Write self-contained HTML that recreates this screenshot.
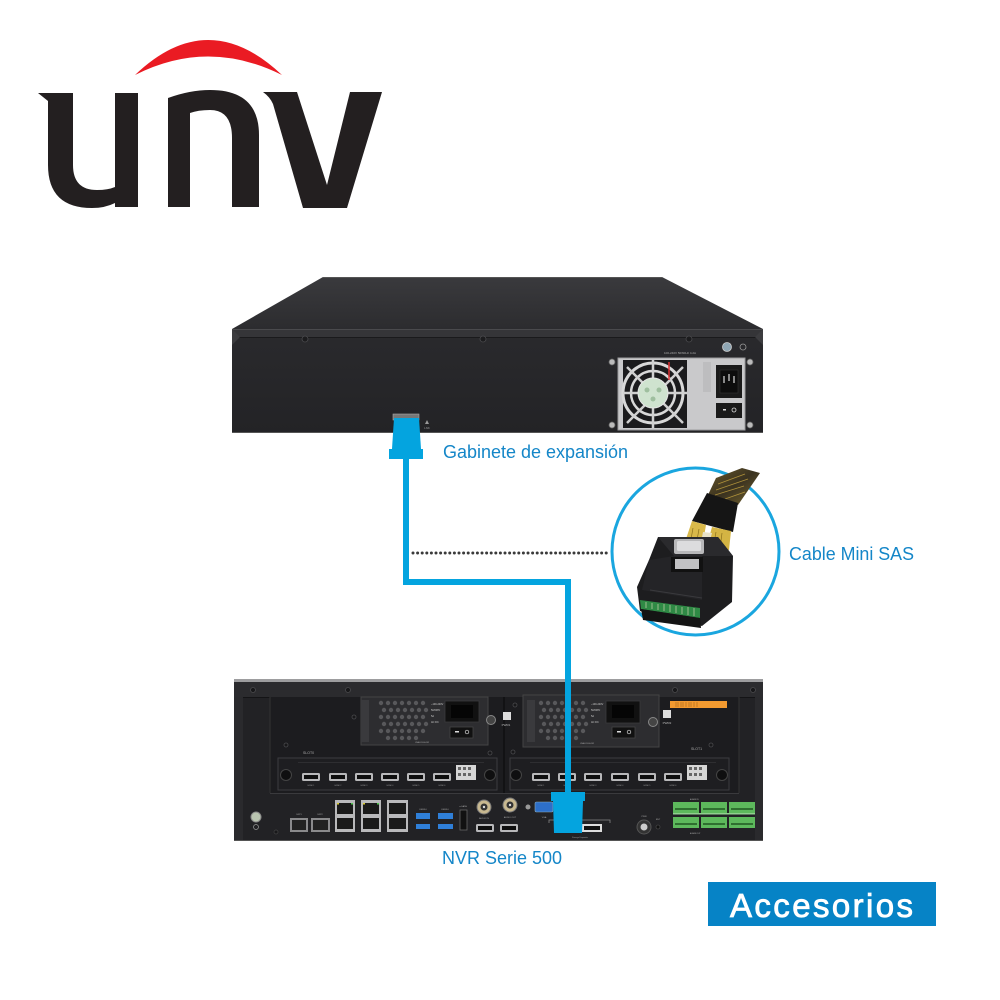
<!DOCTYPE html>
<html>
<head>
<meta charset="utf-8">
<style>
  html,body{margin:0;padding:0;background:#fff;}
  body{width:1000px;height:1000px;overflow:hidden;}
  svg{display:block;}
  text{font-family:"Liberation Sans",Arial,sans-serif;}
</style>
</head>
<body>
<svg width="1000" height="1000" viewBox="0 0 1000 1000" xmlns="http://www.w3.org/2000/svg">
  <defs>
    <linearGradient id="topface" x1="0" y1="0" x2="0" y2="1">
      <stop offset="0" stop-color="#3a3a3d"/>
      <stop offset="1" stop-color="#2c2c2f"/>
    </linearGradient>
    <linearGradient id="front" x1="0" y1="0" x2="0" y2="1">
      <stop offset="0" stop-color="#2a2a2d"/>
      <stop offset="1" stop-color="#232326"/>
    </linearGradient>
    <linearGradient id="braid" x1="0" y1="0" x2="1" y2="1">
      <stop offset="0" stop-color="#6b5a2a"/>
      <stop offset="0.5" stop-color="#3a3220"/>
      <stop offset="1" stop-color="#7a6830"/>
    </linearGradient>
  </defs>

  <!-- ============ LOGO ============ -->
  <path d="M135,75 Q208,5 282,75 Q208,38 135,75 Z" fill="#ea1b23"/>
  <path d="M38,93 L73,93 L73,165 Q73,190 97,190 Q108,190 115,187 L115,93 L138,93 L138,207 L115,207 L115,203 Q105,208 92,208 Q48,208 48,165 L48,101 Z" fill="#231f20"/>
  <path d="M168,98 Q190,90 210,90 Q259,90 259,135 L259,207 L232,207 L232,138 Q232,110 210,110 Q198,110 190,113 L190,207 L168,207 Z" fill="#231f20"/>
  <path d="M263,92 L297,92 L327,185 L350,92 L382,92 L347,208 L303,208 L273,104 Q270,97 263,92 Z" fill="#231f20"/>

  <!-- ============ TOP DEVICE (Gabinete) ============ -->
  <polygon points="323,277 662,277 763,329 232,329" fill="url(#topface)"/>
  <line x1="323" y1="277.5" x2="662" y2="277.5" stroke="#555" stroke-width="1"/>
  <rect x="232" y="329" width="531" height="104" fill="url(#front)"/>
  <rect x="232" y="329" width="531" height="8" fill="#353538"/>
  <line x1="232" y1="329.5" x2="763" y2="329.5" stroke="#4a4a4d" stroke-width="1"/>
  <line x1="238" y1="337.5" x2="757" y2="337.5" stroke="#1a1a1c" stroke-width="1"/>
  <polygon points="232,329 240,337 232,345" fill="#3c3c3f"/>
  <polygon points="763,329 755,337 763,345" fill="#3c3c3f"/>
  <line x1="232" y1="432.5" x2="763" y2="432.5" stroke="#555" stroke-width="1"/>
  <g fill="#1c1c1e" stroke="#4a4a4d" stroke-width="0.8">
    <circle cx="305" cy="339" r="3"/>
    <circle cx="483" cy="339" r="3"/>
    <circle cx="689" cy="339" r="3"/>
  </g>
  <circle cx="727" cy="347" r="4.5" fill="#8fa6b4" stroke="#ccc" stroke-width="0.8"/>
  <circle cx="743" cy="347" r="3" fill="none" stroke="#999" stroke-width="0.8"/>
  <text x="680" y="354" font-size="3" fill="#aaa" text-anchor="middle">100-240V 50/60Hz 4.2A</text>
  <rect x="618" y="358" width="127" height="72" fill="#c9c9cb"/>
  <rect x="618" y="358" width="127" height="72" fill="none" stroke="#9a9a9c" stroke-width="1"/>
  <rect x="623" y="360" width="64" height="68" fill="#1b1b1d"/>
  <circle cx="653" cy="393" r="30" fill="none" stroke="#d8d8d8" stroke-width="3"/>
  <circle cx="653" cy="393" r="22" fill="none" stroke="#d8d8d8" stroke-width="2.5"/>
  <line x1="627" y1="367" x2="683" y2="423" stroke="#d0d0d0" stroke-width="2.5"/>
  <line x1="683" y1="367" x2="627" y2="423" stroke="#d0d0d0" stroke-width="2.5"/>
  <line x1="653" y1="360" x2="653" y2="428" stroke="#d0d0d0" stroke-width="2.5"/>
  <line x1="623" y1="393" x2="687" y2="393" stroke="#d0d0d0" stroke-width="2.5"/>
  <circle cx="653" cy="393" r="15" fill="#cfe3cf" stroke="#e6e6e6" stroke-width="1"/>
  <circle cx="647" cy="390" r="2.5" fill="#9fbf9f"/>
  <circle cx="659" cy="390" r="2.5" fill="#9fbf9f"/>
  <circle cx="653" cy="399" r="2.5" fill="#9fbf9f"/>
  <line x1="669" y1="362" x2="669" y2="380" stroke="#d33" stroke-width="1.5"/>
  <rect x="703" y="362" width="8" height="30" fill="#bdbdbf"/>
  <rect x="716" y="365" width="26" height="33" fill="#1a1a1a"/>
  <rect x="720" y="370" width="18" height="23" fill="#0d0d0d" stroke="#333" stroke-width="0.6"/>
  <rect x="723" y="376" width="2" height="7" fill="#888"/>
  <rect x="728" y="374" width="2" height="7" fill="#888"/>
  <rect x="733" y="376" width="2" height="7" fill="#888"/>
  <rect x="716" y="403" width="26" height="15" fill="#1a1a1a"/>
  <rect x="723" y="409" width="3" height="1.5" fill="#ddd"/>
  <circle cx="734" cy="410" r="2" fill="none" stroke="#ddd" stroke-width="0.8"/>
  <g fill="#bbb" stroke="#666" stroke-width="0.8">
    <circle cx="612" cy="362" r="3"/>
    <circle cx="750" cy="362" r="3"/>
    <circle cx="612" cy="425" r="3"/>
    <circle cx="750" cy="425" r="3"/>
  </g>
  <rect x="393" y="414" width="26" height="6" fill="#777" stroke="#aaa" stroke-width="0.6"/>
  <polygon points="427,420 429,424 425,424" fill="#999"/>
  <text x="427" y="429" font-size="3" fill="#999" text-anchor="middle">LNK</text>

  <!-- ============ BOTTOM DEVICE (NVR) ============ -->
  <rect x="234" y="679" width="529" height="3" fill="#9d9d9f"/>
  <rect x="234" y="682" width="529" height="159" fill="#222225"/>
  <rect x="234" y="682" width="529" height="15" fill="#2b2b2e"/>
  <line x1="234" y1="697.5" x2="763" y2="697.5" stroke="#141416" stroke-width="1"/>
  <rect x="234" y="697" width="9" height="144" fill="#2a2a2d"/>
  <rect x="755" y="697" width="8" height="144" fill="#2a2a2d"/>
  <rect x="270" y="697" width="469" height="96" fill="#1c1c1f"/>
  <line x1="270" y1="697" x2="270" y2="793" stroke="#333" stroke-width="1"/>
  <line x1="739" y1="697" x2="739" y2="793" stroke="#333" stroke-width="1"/>
  <line x1="270" y1="793.5" x2="739" y2="793.5" stroke="#3a3a3d" stroke-width="1"/>
  <line x1="504" y1="697" x2="504" y2="793" stroke="#121214" stroke-width="2"/>
  <g fill="#18181a" stroke="#4a4a4d" stroke-width="0.8">
    <circle cx="253" cy="690" r="2.5"/>
    <circle cx="348" cy="690" r="2.5"/>
    <circle cx="675" cy="690" r="2.5"/>
    <circle cx="753" cy="690" r="2.5"/>
    <circle cx="286" cy="745" r="2"/>
    <circle cx="354" cy="717" r="2"/>
    <circle cx="490" cy="753" r="2"/>
    <circle cx="513" cy="752" r="2"/>
    <circle cx="515" cy="705" r="2"/>
    <circle cx="711" cy="745" r="2"/>
  </g>

  <!-- PSU1 -->
  <rect x="361" y="697" width="127" height="48" fill="#2d2d30" stroke="#444" stroke-width="1"/>
  <rect x="361" y="700" width="8" height="42" fill="#3a3a3d"/>
  <g fill="#58585b">
    <circle cx="381" cy="703" r="2.2"/><circle cx="388" cy="703" r="2.2"/><circle cx="395" cy="703" r="2.2"/><circle cx="402" cy="703" r="2.2"/><circle cx="409" cy="703" r="2.2"/><circle cx="416" cy="703" r="2.2"/><circle cx="423" cy="703" r="2.2"/>
    <circle cx="384" cy="710" r="2.2"/><circle cx="391" cy="710" r="2.2"/><circle cx="398" cy="710" r="2.2"/><circle cx="405" cy="710" r="2.2"/><circle cx="412" cy="710" r="2.2"/><circle cx="419" cy="710" r="2.2"/><circle cx="426" cy="710" r="2.2"/>
    <circle cx="381" cy="717" r="2.2"/><circle cx="388" cy="717" r="2.2"/><circle cx="395" cy="717" r="2.2"/><circle cx="402" cy="717" r="2.2"/><circle cx="409" cy="717" r="2.2"/><circle cx="416" cy="717" r="2.2"/><circle cx="423" cy="717" r="2.2"/>
    <circle cx="384" cy="724" r="2.2"/><circle cx="391" cy="724" r="2.2"/><circle cx="398" cy="724" r="2.2"/><circle cx="405" cy="724" r="2.2"/><circle cx="412" cy="724" r="2.2"/><circle cx="419" cy="724" r="2.2"/><circle cx="426" cy="724" r="2.2"/>
    <circle cx="381" cy="731" r="2.2"/><circle cx="388" cy="731" r="2.2"/><circle cx="395" cy="731" r="2.2"/><circle cx="402" cy="731" r="2.2"/><circle cx="409" cy="731" r="2.2"/><circle cx="416" cy="731" r="2.2"/><circle cx="423" cy="731" r="2.2"/>
    <circle cx="388" cy="738" r="2.2"/><circle cx="395" cy="738" r="2.2"/><circle cx="402" cy="738" r="2.2"/><circle cx="409" cy="738" r="2.2"/><circle cx="416" cy="738" r="2.2"/>
  </g>
  <text x="431" y="705" font-size="2.5" fill="#ccc">~100-240V</text>
  <text x="431" y="711" font-size="2.5" fill="#ccc">50/60Hz</text>
  <text x="431" y="717" font-size="2.5" fill="#ccc">5A</text>
  <text x="431" y="723" font-size="2.5" fill="#ccc">AC  DC</text>
  <rect x="445" y="701" width="34" height="21" fill="#111" stroke="#3a3a3d" stroke-width="0.8"/>
  <rect x="451" y="705" width="22" height="13" fill="#050505"/>
  <rect x="450" y="727" width="23" height="11" fill="#111" stroke="#444" stroke-width="0.8"/>
  <rect x="455" y="731" width="4" height="1.5" fill="#ddd"/>
  <circle cx="467" cy="732" r="1.8" fill="none" stroke="#ddd" stroke-width="0.7"/>
  <text x="415" y="743" font-size="2" fill="#aaa">UVA-D1000-DR</text>
  <circle cx="491" cy="720" r="4.5" fill="#444" stroke="#888" stroke-width="1"/>
  <rect x="503" y="712" width="8" height="8" fill="#ddd"/>
  <text x="506" y="726" font-size="3" fill="#bbb" text-anchor="middle">PWR1</text>

  <!-- PSU2 -->
  <rect x="523" y="695" width="136" height="52" fill="#2d2d30" stroke="#444" stroke-width="1"/>
  <rect x="527" y="700" width="8" height="42" fill="#3a3a3d"/>
  <g fill="#58585b">
    <circle cx="541" cy="703" r="2.2"/><circle cx="548" cy="703" r="2.2"/><circle cx="555" cy="703" r="2.2"/><circle cx="562" cy="703" r="2.2"/><circle cx="569" cy="703" r="2.2"/><circle cx="576" cy="703" r="2.2"/><circle cx="583" cy="703" r="2.2"/>
    <circle cx="544" cy="710" r="2.2"/><circle cx="551" cy="710" r="2.2"/><circle cx="558" cy="710" r="2.2"/><circle cx="565" cy="710" r="2.2"/><circle cx="572" cy="710" r="2.2"/><circle cx="579" cy="710" r="2.2"/><circle cx="586" cy="710" r="2.2"/>
    <circle cx="541" cy="717" r="2.2"/><circle cx="548" cy="717" r="2.2"/><circle cx="555" cy="717" r="2.2"/><circle cx="562" cy="717" r="2.2"/><circle cx="569" cy="717" r="2.2"/><circle cx="576" cy="717" r="2.2"/><circle cx="583" cy="717" r="2.2"/>
    <circle cx="544" cy="724" r="2.2"/><circle cx="551" cy="724" r="2.2"/><circle cx="558" cy="724" r="2.2"/><circle cx="565" cy="724" r="2.2"/><circle cx="572" cy="724" r="2.2"/><circle cx="579" cy="724" r="2.2"/><circle cx="586" cy="724" r="2.2"/>
    <circle cx="541" cy="731" r="2.2"/><circle cx="548" cy="731" r="2.2"/><circle cx="555" cy="731" r="2.2"/><circle cx="562" cy="731" r="2.2"/><circle cx="569" cy="731" r="2.2"/><circle cx="576" cy="731" r="2.2"/><circle cx="583" cy="731" r="2.2"/>
    <circle cx="548" cy="738" r="2.2"/><circle cx="555" cy="738" r="2.2"/><circle cx="562" cy="738" r="2.2"/><circle cx="569" cy="738" r="2.2"/><circle cx="576" cy="738" r="2.2"/>
  </g>
  <text x="591" y="705" font-size="2.5" fill="#ccc">~100-240V</text>
  <text x="591" y="711" font-size="2.5" fill="#ccc">50/60Hz</text>
  <text x="591" y="717" font-size="2.5" fill="#ccc">5A</text>
  <text x="591" y="723" font-size="2.5" fill="#ccc">AC  DC</text>
  <rect x="606" y="701" width="34" height="22" fill="#111" stroke="#3a3a3d" stroke-width="0.8"/>
  <rect x="612" y="705" width="22" height="13" fill="#050505"/>
  <rect x="612" y="727" width="23" height="11" fill="#111" stroke="#444" stroke-width="0.8"/>
  <rect x="617" y="731" width="4" height="1.5" fill="#ddd"/>
  <circle cx="629" cy="732" r="1.8" fill="none" stroke="#ddd" stroke-width="0.7"/>
  <text x="580" y="744" font-size="2" fill="#aaa">UVA-D1000-DR</text>
  <circle cx="653" cy="722" r="4.5" fill="#444" stroke="#888" stroke-width="1"/>
  <rect x="663" y="710" width="8" height="8" fill="#ddd"/>
  <text x="667" y="724" font-size="3" fill="#bbb" text-anchor="middle">PWR2</text>
  <rect x="670" y="701" width="57" height="7" fill="#f29a30"/>
  <g stroke="#7a4a10" stroke-width="0.4">
    <line x1="676" y1="702" x2="676" y2="707"/><line x1="678" y1="702" x2="678" y2="707"/><line x1="681" y1="702" x2="681" y2="707"/><line x1="683" y1="702" x2="683" y2="707"/><line x1="686" y1="702" x2="686" y2="707"/><line x1="689" y1="702" x2="689" y2="707"/><line x1="691" y1="702" x2="691" y2="707"/><line x1="694" y1="702" x2="694" y2="707"/><line x1="697" y1="702" x2="697" y2="707"/>
  </g>

  <text x="303" y="754" font-size="3.5" fill="#aaa">SLOT0</text>
  <text x="691" y="750" font-size="3.5" fill="#aaa">SLOT1</text>

  <!-- HDMI card 0 -->
  <rect x="278" y="758" width="219" height="32" fill="#1e1e21" stroke="#3c3c40" stroke-width="1"/>
  <line x1="298" y1="762.5" x2="484" y2="762.5" stroke="#2e2e31" stroke-width="1"/>
  <circle cx="286" cy="775" r="5.5" fill="#0f0f10" stroke="#444" stroke-width="1"/>
  <circle cx="490" cy="775" r="5.5" fill="#0f0f10" stroke="#444" stroke-width="1"/>
  <g>
    <rect x="302" y="773" width="18" height="8" rx="1.5" fill="#b8b8ba"/><rect x="304" y="775" width="14" height="4" fill="#0e0e0e"/>
    <rect x="329" y="773" width="18" height="8" rx="1.5" fill="#b8b8ba"/><rect x="331" y="775" width="14" height="4" fill="#0e0e0e"/>
    <rect x="355" y="773" width="18" height="8" rx="1.5" fill="#b8b8ba"/><rect x="357" y="775" width="14" height="4" fill="#0e0e0e"/>
    <rect x="381" y="773" width="18" height="8" rx="1.5" fill="#b8b8ba"/><rect x="383" y="775" width="14" height="4" fill="#0e0e0e"/>
    <rect x="407" y="773" width="18" height="8" rx="1.5" fill="#b8b8ba"/><rect x="409" y="775" width="14" height="4" fill="#0e0e0e"/>
    <rect x="433" y="773" width="18" height="8" rx="1.5" fill="#b8b8ba"/><rect x="435" y="775" width="14" height="4" fill="#0e0e0e"/>
  </g>
  <g font-size="2" fill="#999" text-anchor="middle">
    <text x="311" y="786">HDMI 1</text><text x="338" y="786">HDMI 2</text><text x="364" y="786">HDMI 3</text><text x="390" y="786">HDMI 4</text><text x="416" y="786">HDMI 5</text><text x="442" y="786">HDMI 6</text>
  </g>
  <rect x="456" y="765" width="20" height="15" fill="#d6d6d6"/>
  <g fill="#666"><rect x="458" y="767" width="3" height="3"/><rect x="463" y="767" width="3" height="3"/><rect x="468" y="767" width="3" height="3"/><rect x="458" y="773" width="3" height="3"/><rect x="463" y="773" width="3" height="3"/><rect x="468" y="773" width="3" height="3"/></g>

  <!-- HDMI card 1 -->
  <rect x="510" y="758" width="219" height="32" fill="#1e1e21" stroke="#3c3c40" stroke-width="1"/>
  <line x1="530" y1="762.5" x2="716" y2="762.5" stroke="#2e2e31" stroke-width="1"/>
  <circle cx="516" cy="775" r="5.5" fill="#0f0f10" stroke="#444" stroke-width="1"/>
  <circle cx="722" cy="775" r="5.5" fill="#0f0f10" stroke="#444" stroke-width="1"/>
  <g>
    <rect x="532" y="773" width="18" height="8" rx="1.5" fill="#b8b8ba"/><rect x="534" y="775" width="14" height="4" fill="#0e0e0e"/>
    <rect x="558" y="773" width="18" height="8" rx="1.5" fill="#b8b8ba"/><rect x="560" y="775" width="14" height="4" fill="#0e0e0e"/>
    <rect x="584" y="773" width="18" height="8" rx="1.5" fill="#b8b8ba"/><rect x="586" y="775" width="14" height="4" fill="#0e0e0e"/>
    <rect x="611" y="773" width="18" height="8" rx="1.5" fill="#b8b8ba"/><rect x="613" y="775" width="14" height="4" fill="#0e0e0e"/>
    <rect x="638" y="773" width="18" height="8" rx="1.5" fill="#b8b8ba"/><rect x="640" y="775" width="14" height="4" fill="#0e0e0e"/>
    <rect x="664" y="773" width="18" height="8" rx="1.5" fill="#b8b8ba"/><rect x="666" y="775" width="14" height="4" fill="#0e0e0e"/>
  </g>
  <g font-size="2" fill="#999" text-anchor="middle">
    <text x="541" y="786">HDMI 1</text><text x="567" y="786">HDMI 2</text><text x="593" y="786">HDMI 3</text><text x="620" y="786">HDMI 4</text><text x="647" y="786">HDMI 5</text><text x="673" y="786">HDMI 6</text>
  </g>
  <rect x="687" y="765" width="20" height="15" fill="#d6d6d6"/>
  <g fill="#666"><rect x="689" y="767" width="3" height="3"/><rect x="694" y="767" width="3" height="3"/><rect x="699" y="767" width="3" height="3"/><rect x="689" y="773" width="3" height="3"/><rect x="694" y="773" width="3" height="3"/><rect x="699" y="773" width="3" height="3"/></g>

  <!-- lower IO panel -->
  <circle cx="256" cy="817" r="5" fill="#b9c4b0" stroke="#888" stroke-width="1"/>
  <circle cx="256" cy="827" r="2.5" fill="none" stroke="#999" stroke-width="0.7"/>
  <circle cx="276" cy="832" r="2" fill="#18181a" stroke="#444" stroke-width="0.7"/>
  <rect x="290" y="818" width="18" height="14" fill="#8a8a8c"/><rect x="292" y="820" width="14" height="10" fill="#222"/>
  <rect x="311" y="818" width="19" height="14" fill="#8a8a8c"/><rect x="313" y="820" width="15" height="10" fill="#222"/>
  <text x="299" y="815" font-size="2.2" fill="#aaa" text-anchor="middle">SFP1</text>
  <text x="320" y="815" font-size="2.2" fill="#aaa" text-anchor="middle">SFP2</text>
  <g>
    <rect x="335" y="800" width="20" height="32" fill="#b9b9bb"/>
    <rect x="337" y="803" width="16" height="11" fill="#1a1a1a"/><rect x="337" y="818" width="16" height="11" fill="#1a1a1a"/>
    <rect x="361" y="800" width="20" height="32" fill="#b9b9bb"/>
    <rect x="363" y="803" width="16" height="11" fill="#1a1a1a"/><rect x="363" y="818" width="16" height="11" fill="#1a1a1a"/>
    <rect x="387" y="800" width="21" height="32" fill="#b9b9bb"/>
    <rect x="389" y="803" width="17" height="11" fill="#1a1a1a"/><rect x="389" y="818" width="17" height="11" fill="#1a1a1a"/>
  </g>
  <g fill="#d8c930"><rect x="337" y="803" width="2" height="1.5"/><rect x="363" y="803" width="2" height="1.5"/></g>
  <g fill="#4ec54e"><rect x="351" y="803" width="2" height="1.5"/><rect x="377" y="803" width="2" height="1.5"/></g>
  <g fill="#2f7fd8">
    <rect x="416" y="813" width="14" height="6"/><rect x="416" y="824" width="14" height="5"/>
    <rect x="438" y="813" width="15" height="6"/><rect x="438" y="824" width="15" height="5"/>
  </g>
  <text x="423" y="810" font-size="2.2" fill="#aaa" text-anchor="middle">USB3.0</text>
  <text x="445" y="810" font-size="2.2" fill="#aaa" text-anchor="middle">USB3.0</text>
  <rect x="460" y="810" width="7" height="20" fill="#111" stroke="#666" stroke-width="0.8"/>
  <text x="463" y="807" font-size="2.2" fill="#aaa" text-anchor="middle">e-SATA</text>
  <circle cx="484" cy="807" r="7" fill="#c8b890" stroke="#777" stroke-width="1"/>
  <circle cx="484" cy="807" r="3.5" fill="#333"/>
  <circle cx="484" cy="807" r="1.2" fill="#ddd"/>
  <circle cx="510" cy="805" r="7" fill="#c8b890" stroke="#777" stroke-width="1"/>
  <circle cx="510" cy="805" r="3.5" fill="#333"/>
  <circle cx="510" cy="805" r="1.2" fill="#ddd"/>
  <text x="484" y="819" font-size="2.2" fill="#aaa" text-anchor="middle">AUDIO IN</text>
  <text x="510" y="818" font-size="2.2" fill="#aaa" text-anchor="middle">AUDIO OUT</text>
  <rect x="476" y="824" width="18" height="8" rx="1.5" fill="#b8b8ba"/><rect x="478" y="826" width="14" height="4" fill="#0e0e0e"/>
  <rect x="500" y="824" width="18" height="8" rx="1.5" fill="#b8b8ba"/><rect x="502" y="826" width="14" height="4" fill="#0e0e0e"/>
  <circle cx="528" cy="807" r="2.5" fill="#999"/>
  <rect x="535" y="802" width="18" height="10" rx="1.5" fill="#2d6fc9" stroke="#8ab" stroke-width="0.6"/>
  <text x="544" y="818" font-size="2.2" fill="#aaa" text-anchor="middle">VGA</text>
  <polyline points="549,823 549,820 610,820 610,823" fill="none" stroke="#888" stroke-width="0.8"/>
  <rect x="582" y="824" width="20" height="8" fill="#ddd"/>
  <rect x="584" y="826" width="16" height="4" fill="#111"/>
  <text x="580" y="838" font-size="2" fill="#999" text-anchor="middle">Storage Expander</text>
  <circle cx="644" cy="827" r="7" fill="#333" stroke="#555" stroke-width="1"/>
  <circle cx="644" cy="827" r="3.5" fill="#ccc"/>
  <circle cx="658" cy="827" r="2" fill="#111" stroke="#555" stroke-width="0.6"/>
  <text x="644" y="817" font-size="2.2" fill="#aaa" text-anchor="middle">PWR</text>
  <text x="658" y="820" font-size="2.2" fill="#aaa" text-anchor="middle">RST</text>
  <g>
    <rect x="673" y="802" width="26" height="11" fill="#5db85c"/>
    <rect x="701" y="802" width="26" height="11" fill="#5db85c"/>
    <rect x="729" y="802" width="26" height="11" fill="#5db85c"/>
    <rect x="673" y="817" width="26" height="11" fill="#5db85c"/>
    <rect x="701" y="817" width="26" height="11" fill="#5db85c"/>
    <rect x="729" y="817" width="26" height="11" fill="#5db85c"/>
    <g fill="#2f6f30">
      <rect x="675" y="808" width="22" height="2"/><rect x="703" y="808" width="22" height="2"/><rect x="731" y="808" width="22" height="2"/>
      <rect x="675" y="823" width="22" height="2"/><rect x="703" y="823" width="22" height="2"/><rect x="731" y="823" width="22" height="2"/>
    </g>
    <rect x="673" y="813" width="82" height="1.5" fill="#8fd08e"/>
  </g>
  <g font-size="1.8" fill="#aaa"><text x="690" y="800">ALARM IN</text><text x="690" y="834">ALARM OUT</text></g>
  <line x1="234" y1="840.5" x2="763" y2="840.5" stroke="#555" stroke-width="1"/>

  <!-- ============ CABLE ============ -->
  <g fill="#04a4df">
    <path d="M394,418 L419,418 L421,449 L392,449 Z"/>
    <rect x="389" y="449" width="34" height="10"/>
    <rect x="403" y="459" width="6" height="126"/>
    <rect x="403" y="579" width="168" height="6"/>
    <rect x="565" y="579" width="6" height="214"/>
    <rect x="551" y="792" width="34" height="9"/>
    <path d="M553,801 L583,801 L582,833 L554,833 Z"/>
  </g>

  <line x1="413" y1="553" x2="609" y2="553" stroke="#3a3a3a" stroke-width="3" stroke-linecap="round" stroke-dasharray="0 4.6"/>

  <!-- ============ CIRCLE with Mini SAS ============ -->
  <circle cx="695.5" cy="551.5" r="83.5" fill="#fff" stroke="#1aa6df" stroke-width="3"/>
  <polygon points="716,478 742,468 760,473 738,505 708,495" fill="url(#braid)"/>
  <g stroke="#c9a640" stroke-width="0.8" opacity="0.8">
    <line x1="718" y1="484" x2="745" y2="474"/>
    <line x1="716" y1="490" x2="748" y2="479"/>
    <line x1="715" y1="495" x2="744" y2="486"/>
    <line x1="725" y1="499" x2="745" y2="492"/>
  </g>
  <polygon points="707,493 738,503 733,532 692,521" fill="#151515"/>
  <polygon points="692,521 706,525 702,548 684,545" fill="#d9b94a"/>
  <polygon points="712,527 731,531 729,550 706,549" fill="#d4b443"/>
  <polygon points="703,532 712,533 708,548 700,548" fill="#e8e2c8"/>
  <g stroke="#8a6f1c" stroke-width="0.7">
    <line x1="693" y1="528" x2="690" y2="545"/>
    <line x1="699" y1="529" x2="696" y2="546"/>
    <line x1="716" y1="532" x2="713" y2="549"/>
    <line x1="722" y1="533" x2="720" y2="549"/>
  </g>
  <polygon points="658,537 718,537 733,556 732,602 702,626 640,611 637,587 649,560" fill="#1d1d1f"/>
  <polygon points="658,537 718,537 733,556 674,556" fill="#2a2a2d"/>
  <polygon points="649,560 674,556 702,556 702,600 642,590" fill="#242427"/>
  <rect x="674" y="539" width="30" height="15" rx="2" fill="#b8b8ba"/>
  <rect x="677" y="541" width="24" height="10" rx="1.5" fill="#dcdcde"/>
  <rect x="671" y="557" width="32" height="15" fill="#111"/>
  <rect x="675" y="559" width="24" height="10" fill="#c2c2c4"/>
  <line x1="650" y1="590" x2="702" y2="598" stroke="#3a3a3d" stroke-width="1"/>
  <polygon points="640,600 700,608 700,618 641,609" fill="#2f8a45"/>
  <g stroke="#b8c9a0" stroke-width="0.8">
    <line x1="646" y1="602" x2="646" y2="608"/><line x1="652" y1="603" x2="652" y2="609"/><line x1="658" y1="604" x2="658" y2="610"/><line x1="664" y1="604" x2="664" y2="611"/><line x1="670" y1="605" x2="670" y2="612"/><line x1="676" y1="606" x2="676" y2="613"/><line x1="682" y1="607" x2="682" y2="614"/><line x1="688" y1="607" x2="688" y2="615"/><line x1="694" y1="608" x2="694" y2="616"/>
  </g>
  <polygon points="641,609 700,618 701,628 643,620" fill="#141414"/>

  <!-- ============ LABELS ============ -->
  <text x="443" y="458" font-size="18" fill="#1486c8" textLength="185" lengthAdjust="spacingAndGlyphs">Gabinete de expansión</text>
  <text x="789" y="560" font-size="18" fill="#1486c8" textLength="125" lengthAdjust="spacingAndGlyphs">Cable Mini SAS</text>
  <text x="442" y="864" font-size="18" fill="#1486c8" textLength="120" lengthAdjust="spacingAndGlyphs">NVR Serie 500</text>

  <rect x="708" y="882" width="228" height="44" fill="#0683c6"/>
  <text x="730" y="917" font-size="33" fill="#fff" stroke="#fff" stroke-width="0.8" textLength="183" lengthAdjust="spacing">Accesorios</text>
</svg>
</body>
</html>
